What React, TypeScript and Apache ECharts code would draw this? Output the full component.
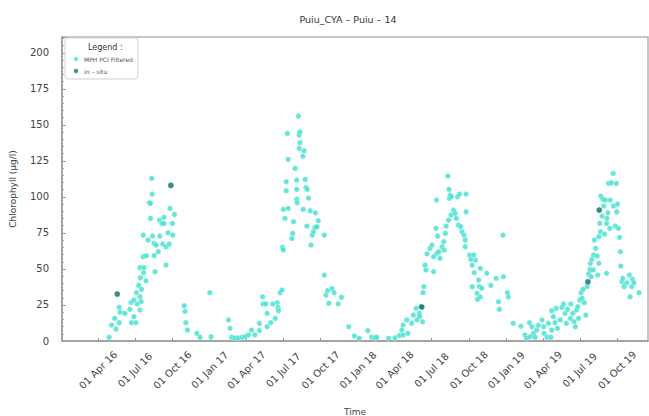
import React, { useEffect, useRef } from 'react';
import * as echarts from 'echarts';

const TITLE = 'Puiu_CYA – Puiu – 14';
const SERIES_NAMES = ['MPH PCI Filtered', 'in – situ'];
const LEGEND_TITLE = 'Legend :';
const X_NAME = 'Time';
const Y_NAME = 'Chlorophyll (μg/l)';
const MONTHS = ['Jan', 'Feb', 'Mar', 'Apr', 'May', 'Jun', 'Jul', 'Aug', 'Sep', 'Oct', 'Nov', 'Dec'];
const X_TICKS = [
  '2016-04-01', '2016-07-01', '2016-10-01', '2017-01-01', '2017-04-01', '2017-07-01', '2017-10-01',
  '2018-01-01', '2018-04-01', '2018-07-01', '2018-10-01', '2019-01-01', '2019-04-01', '2019-07-01', '2019-10-01',
];
const X_MIN = '2016-01-03';
const X_MAX = '2019-12-16';

const season2016: [string, number][] = [
  ['2016-04-28', 2.6], ['2016-05-04', 11.1], ['2016-05-12', 15.7], ['2016-05-15', 8.3], ['2016-05-23', 12.7],
  ['2016-05-23', 23.4], ['2016-05-25', 20.1], ['2016-06-06', 19.2], ['2016-06-18', 22], ['2016-06-21', 26.8],
  ['2016-06-22', 12.7], ['2016-06-28', 28.4], ['2016-06-28', 16.9], ['2016-07-03', 12.7], ['2016-07-04', 33.5],
  ['2016-07-06', 25.7], ['2016-07-10', 38.6], ['2016-07-13', 30.7], ['2016-07-13', 50.9], ['2016-07-13', 21.5],
  ['2016-07-14', 43.9], ['2016-07-16', 27.3], ['2016-07-17', 35.9], ['2016-07-21', 58.5], ['2016-07-21', 73.5],
  ['2016-07-22', 47.4], ['2016-07-23', 50.9], ['2016-07-28', 41.8], ['2016-07-29', 59.2], ['2016-08-02', 70.1],
  ['2016-08-05', 95.9], ['2016-08-08', 95.5], ['2016-08-08', 85.1], ['2016-08-11', 112.9], ['2016-08-12', 102],
  ['2016-08-13', 72.8], ['2016-08-17', 67.8], ['2016-08-17', 59.2], ['2016-08-19', 48.1], ['2016-08-22', 66.6],
  ['2016-08-27', 62], ['2016-08-30', 83.9], ['2016-08-31', 72.8], ['2016-09-05', 81.6], ['2016-09-07', 67.3],
  ['2016-09-10', 85.8], ['2016-09-10', 81.6], ['2016-09-15', 52.7], ['2016-09-15', 65.4], ['2016-09-20', 75.1],
  ['2016-09-23', 67.3], ['2016-09-25', 92], ['2016-10-01', 81.6], ['2016-10-02', 73.5], ['2016-10-06', 87.9],
  ['2016-10-30', 24.5], ['2016-11-01', 20.6], ['2016-11-03', 12.7], ['2016-11-07', 7.6], ['2016-11-30', 5.3],
  ['2016-12-08', 2.6], ['2017-01-01', 33.5], ['2017-01-04', 3.0],
];

const season2017: [string, number][] = [
  ['2017-02-16', 14.6], ['2017-02-20', 8.8], ['2017-02-24', 2.6], ['2017-03-04', 2.0], ['2017-03-12', 2.0],
  ['2017-03-21', 2.5], ['2017-03-29', 3.0], ['2017-04-06', 4.2], ['2017-04-14', 7.6], ['2017-04-22', 4.2],
  ['2017-05-03', 12.3], ['2017-05-03', 7.2], ['2017-05-11', 30.7], ['2017-05-12', 25.7], ['2017-05-19', 25.7],
  ['2017-05-22', 19.2], ['2017-05-22', 9.9], ['2017-05-31', 12.7], ['2017-06-05', 25.7], ['2017-06-11', 15.7],
  ['2017-06-16', 26.6], ['2017-06-18', 23.4], ['2017-06-19', 21], ['2017-06-23', 33.5], ['2017-06-28', 35.4],
  ['2017-06-29', 65], ['2017-07-01', 63.1], ['2017-07-01', 91.4], ['2017-07-05', 85.1], ['2017-07-08', 110.5],
  ['2017-07-08', 104.3], ['2017-07-11', 144.1], ['2017-07-13', 126], ['2017-07-13', 92], ['2017-07-22', 71.2],
  ['2017-07-24', 74.7], ['2017-07-26', 82.8], ['2017-07-30', 119.8], ['2017-08-03', 111.7], ['2017-08-03', 105.2],
  ['2017-08-03', 98.3], ['2017-08-04', 95.9], ['2017-08-07', 156.1], ['2017-08-09', 133.7], ['2017-08-09', 142.9],
  ['2017-08-11', 145.2], ['2017-08-11', 137.6], ['2017-08-18', 128.3], ['2017-08-19', 91.4], ['2017-08-21', 132],
  ['2017-08-24', 112.1], ['2017-08-26', 106.6], ['2017-08-28', 79.8], ['2017-08-29', 105.2], ['2017-09-01', 99.2],
  ['2017-09-05', 90.4], ['2017-09-07', 66.6], ['2017-09-10', 73.5], ['2017-09-13', 75.8], ['2017-09-17', 78.9],
  ['2017-09-18', 89], ['2017-09-22', 79.3], ['2017-09-25', 83.5], ['2017-10-10', 73.5], ['2017-10-10', 45.8],
  ['2017-10-14', 31.9], ['2017-10-18', 34.9], ['2017-10-21', 26.2], ['2017-10-29', 36.3], ['2017-11-03', 33.5],
  ['2017-11-13', 25.7], ['2017-11-21', 30.3], ['2017-12-09', 9.9], ['2017-12-23', 3.5], ['2018-01-04', 1.9],
  ['2018-01-25', 7.2], ['2018-02-04', 2.6], ['2018-02-12', 2.0], ['2018-02-16', 2.6], ['2018-03-17', 1.9],
];

const season2018: [string, number][] = [
  ['2018-04-02', 2.2], ['2018-04-13', 3.8], ['2018-04-19', 7.6], ['2018-04-22', 11.1], ['2018-04-22', 4.2],
  ['2018-05-01', 14.6], ['2018-05-04', 5.3], ['2018-05-13', 12.3], ['2018-05-17', 18], ['2018-05-24', 22.7],
  ['2018-05-26', 14.6], ['2018-06-01', 19.2], ['2018-06-02', 16.9], ['2018-06-05', 23.8], ['2018-06-09', 13.4],
  ['2018-06-10', 33.5], ['2018-06-12', 37.7], ['2018-06-15', 52.7], ['2018-06-17', 49.3], ['2018-06-20', 60.4],
  ['2018-06-27', 64.3], ['2018-07-02', 66.6], ['2018-07-06', 48.1], ['2018-07-06', 58.5], ['2018-07-12', 78.2],
  ['2018-07-13', 97.8], ['2018-07-14', 60.8], ['2018-07-16', 72.8], ['2018-07-19', 62], ['2018-07-22', 57.4],
  ['2018-07-27', 65.4], ['2018-07-31', 68.9], ['2018-08-01', 63.1], ['2018-08-04', 74.7], ['2018-08-06', 79.8],
  ['2018-08-10', 114.5], ['2018-08-12', 83.9], ['2018-08-13', 105.2], ['2018-08-14', 99], ['2018-08-16', 101.3],
  ['2018-08-18', 87.4], ['2018-08-19', 100.1], ['2018-08-24', 90.9], ['2018-08-28', 88.6], ['2018-08-31', 85.1],
  ['2018-09-03', 100.1], ['2018-09-05', 80.5], ['2018-09-08', 102], ['2018-09-11', 79.3], ['2018-09-14', 75.8],
  ['2018-09-19', 73.5], ['2018-09-22', 70.1], ['2018-09-22', 65.4], ['2018-09-24', 102], ['2018-09-24', 89.7],
  ['2018-10-03', 59.7], ['2018-10-06', 56.7], ['2018-10-09', 52.7], ['2018-10-09', 37.7], ['2018-10-13', 59.7],
  ['2018-10-14', 47.4], ['2018-10-17', 56.2], ['2018-10-21', 33.1], ['2018-10-22', 28.9], ['2018-10-25', 42.3],
  ['2018-10-27', 37.7], ['2018-10-29', 30.7], ['2018-10-29', 50.4], ['2018-11-02', 36.6], ['2018-11-14', 47],
  ['2018-11-24', 38.6], ['2018-12-07', 43.5], ['2018-12-13', 27.3], ['2018-12-15', 22], ['2018-12-24', 73.5],
  ['2018-12-25', 44.6], ['2019-01-04', 33.5], ['2019-01-06', 30.7], ['2019-01-18', 12.3],
];

const season2019: [string, number][] = [
  ['2019-02-06', 10.2], ['2019-02-16', 4.2], ['2019-02-20', 1.9], ['2019-02-27', 12.7], ['2019-03-01', 3],
  ['2019-03-05', 9.9], ['2019-03-09', 5.3], ['2019-03-13', 2.6], ['2019-03-17', 7.6], ['2019-03-21', 10.9],
  ['2019-03-30', 14.6], ['2019-04-03', 9.9], ['2019-04-04', 5.3], ['2019-04-11', 2.6], ['2019-04-15', 12.3],
  ['2019-04-21', 2.6], ['2019-04-23', 7.6], ['2019-04-23', 21], ['2019-04-27', 16.9], ['2019-05-01', 12.7],
  ['2019-05-04', 22.7], ['2019-05-07', 8.8], ['2019-05-14', 14.6], ['2019-05-18', 23.4], ['2019-05-22', 25.7],
  ['2019-05-26', 19.2], ['2019-05-29', 12.3], ['2019-06-01', 22], ['2019-06-08', 15.7], ['2019-06-09', 25.7],
  ['2019-06-14', 19.2], ['2019-06-17', 13.4], ['2019-06-20', 9.9], ['2019-06-23', 21.5], ['2019-06-26', 23.8],
  ['2019-06-28', 15.7], ['2019-07-01', 28.4], ['2019-07-04', 33.5], ['2019-07-07', 29.6], ['2019-07-09', 35.9],
  ['2019-07-12', 26.6], ['2019-07-16', 18], ['2019-07-19', 37.7], ['2019-07-23', 46.5], ['2019-07-26', 49.7],
  ['2019-07-27', 53.9], ['2019-07-29', 44.6], ['2019-07-31', 56.7], ['2019-08-03', 49.3], ['2019-08-04', 59.7],
  ['2019-08-06', 70.1], ['2019-08-09', 64.3], ['2019-08-13', 59], ['2019-08-14', 45.8], ['2019-08-17', 53.9],
  ['2019-08-17', 72.4], ['2019-08-19', 81.6], ['2019-08-21', 75.8], ['2019-08-22', 100.6], ['2019-08-25', 86.7],
  ['2019-08-27', 98.3], ['2019-08-29', 93.7], ['2019-08-31', 74.2], ['2019-09-02', 97.8], ['2019-09-05', 81.6],
  ['2019-09-05', 47], ['2019-09-06', 85.1], ['2019-09-08', 89], ['2019-09-10', 109.4], ['2019-09-13', 78.2],
  ['2019-09-14', 97.8], ['2019-09-17', 109.8], ['2019-09-21', 116.3], ['2019-09-22', 93.7], ['2019-09-26', 79.8],
  ['2019-09-29', 109.4], ['2019-09-30', 89.7], ['2019-10-02', 95], ['2019-10-04', 78.2], ['2019-10-07', 71.9],
  ['2019-10-09', 62], ['2019-10-10', 52], ['2019-10-13', 41.1], ['2019-10-15', 43.5], ['2019-10-18', 37.7],
  ['2019-10-25', 40.4], ['2019-10-31', 45.8], ['2019-11-02', 30.7], ['2019-11-06', 37.7], ['2019-11-08', 42.8],
  ['2019-11-11', 40.4], ['2019-11-24', 33.5],
];

const inSitu: [string, number][] = [
  ['2016-05-18', 32.6], ['2016-09-27', 108], ['2018-06-07', 23.6], ['2019-07-21', 41.1], ['2019-08-18', 90.9],
];

const FONT = 'DejaVu Sans';
const toTs = (d: string) => Date.parse(d + 'T00:00:00Z');

export default function App() {
  const ref = useRef<HTMLDivElement>(null);
  useEffect(() => {
    if (!ref.current) return;
    const chart = echarts.init(ref.current, undefined, { renderer: 'svg' });
    const sat = [...season2016, ...season2017, ...season2018, ...season2019].map(([d, v]) => [toTs(d), v]);
    const situ = inSitu.map(([d, v]) => [toTs(d), v]);
    const tickTs = X_TICKS.map(toTs);
    chart.setOption({
      animation: false,
      textStyle: { fontFamily: FONT },
      title: {
        text: TITLE,
        left: 343,
        top: 9,
        textAlign: 'center',
        textStyle: { fontSize: 9.5, fontWeight: 'normal', color: '#333', fontFamily: FONT },
      },
      grid: {
        left: 62, top: 37, width: 586, height: 304,
        outerBoundsMode: 'none',
        containLabel: false,
        show: true, borderColor: '#b5b5b5', borderWidth: 1.5, backgroundColor: 'transparent',
      },
      legend: {
        orient: 'vertical',
        left: 65, top: 38,
        padding: [17, 5, 4, 7],
        backgroundColor: '#fff', borderColor: '#d0d0d0', borderWidth: 1, borderRadius: 3,
        itemWidth: 6, itemHeight: 6, itemGap: 4,
        textStyle: { fontSize: 6, color: '#555', fontFamily: FONT },
        data: SERIES_NAMES.map((n) => ({ name: n, icon: 'circle' })),
      },
      graphic: [
        {
          type: 'text', left: 88, top: 43, z: 100,
          style: { text: LEGEND_TITLE, fontSize: 8, fill: '#333', fontFamily: FONT },
        },
      ],
      xAxis: {
        type: 'value',
        min: toTs(X_MIN),
        max: toTs(X_MAX),
        name: X_NAME,
        nameLocation: 'middle',
        nameGap: 66,
        nameTextStyle: { fontSize: 9, color: '#444', fontFamily: FONT },
        splitLine: { show: false },
        axisLine: { lineStyle: { color: '#999', width: 1.5 } },
        axisTick: { show: true, inside: true, length: 3, customValues: tickTs, lineStyle: { color: '#999' } },
        axisLabel: {
          customValues: tickTs,
          rotate: 45,
          align: 'center',
          verticalAlign: 'middle',
          margin: 29,
          fontSize: 10,
          color: '#444',
          fontFamily: FONT,
          formatter: (val: number) => {
            const d = new Date(val);
            return '01 ' + MONTHS[d.getUTCMonth()] + ' ' + String(d.getUTCFullYear()).slice(2);
          },
        },
      },
      yAxis: {
        type: 'value',
        min: 0, max: 211, interval: 25,
        name: Y_NAME,
        nameLocation: 'middle',
        nameGap: 45,
        nameTextStyle: { fontSize: 9, color: '#444', fontFamily: FONT },
        splitLine: { show: false },
        axisLine: { show: true, lineStyle: { color: '#999', width: 1.5 } },
        axisTick: { show: true, inside: true, length: 4, lineStyle: { color: '#999' } },
        minorTick: { show: true, splitNumber: 5, length: 2, lineStyle: { color: '#aaa' } },
        axisLabel: { fontSize: 10, color: '#444', margin: 13, showMaxLabel: false, fontFamily: FONT },
      },
      series: [
        {
          name: SERIES_NAMES[0], type: 'scatter', data: sat, symbolSize: 5.5,
          itemStyle: { color: '#40E0D0', borderColor: '#ffffff', borderWidth: 0.4 },
        },
        {
          name: SERIES_NAMES[1], type: 'scatter', data: situ, symbolSize: 6, z: 3,
          itemStyle: { color: '#0d6a66', borderColor: '#ffffff', borderWidth: 0.4 },
        },
      ],
    });
    return () => chart.dispose();
  }, []);
  return (
    <div
      ref={ref}
      style={{ position: 'absolute', left: 0, top: 0, width: 649, height: 416, background: '#fff' }}
    />
  );
}
